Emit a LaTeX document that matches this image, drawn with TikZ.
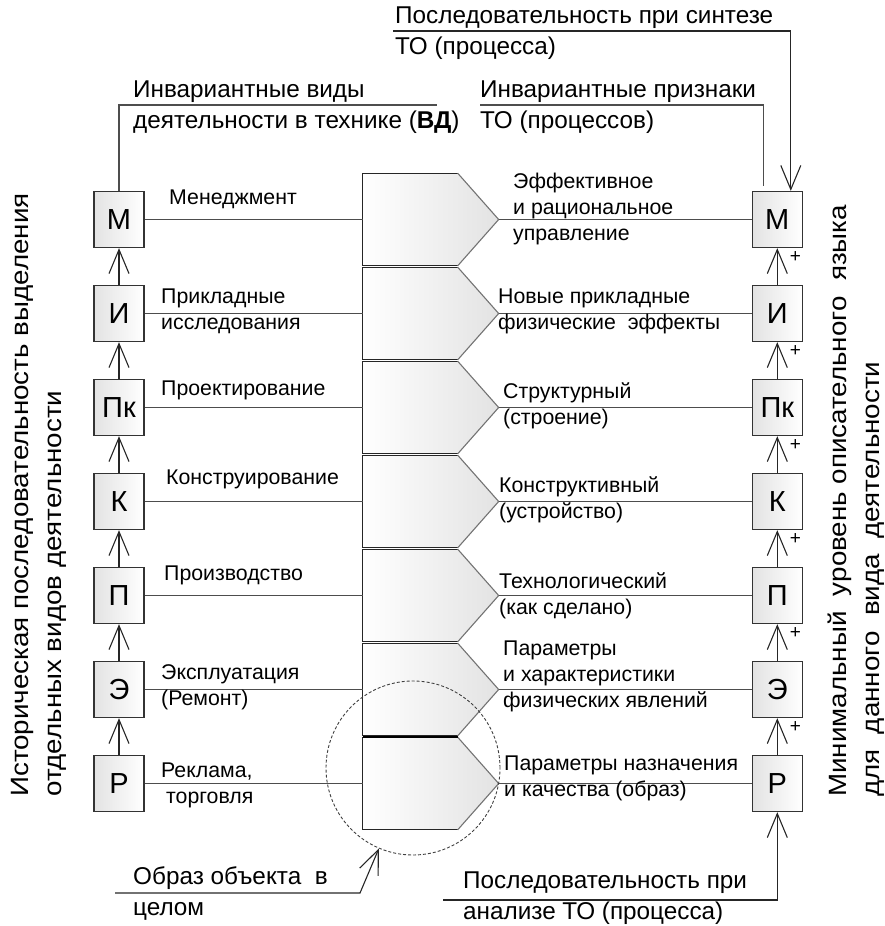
\documentclass[tikz,border=0pt]{standalone}
\usepackage{fontspec}
\setmainfont{Liberation Sans}
\usetikzlibrary{arrows.meta,positioning,calc}
\definecolor{LineGray}{HTML}{4D4D4D}
\definecolor{BoxEdge}{HTML}{333333}

\begin{document}
\begin{tikzpicture}[
    x=1pt, y=-1pt,
    node distance=36.7pt and 607pt,
    box/.style={draw=BoxEdge, line width=1.3pt, left color=black!11, right color=white,
      minimum width=50pt, minimum height=56pt, inner sep=0pt,
      font=\fontsize{29}{32}\selectfont},
    sigblk/.pic={
      \shade[left color=white, right color=black!11]
        (0,-46.35) -- (95,-46.35) -- (136,0) -- (95,46.35) -- (0,46.35) -- cycle;
      \draw[black!85, line width=1.1pt] (95,-46.35) -- (0,-46.35) -- (0,46.35) -- (95,46.35);
      \draw[black!55, line width=1.1pt] (95,-46.35) -- (136,0) -- (95,46.35);
      \coordinate (-in) at (0,0);
      \coordinate (-out) at (136,0);
    },
    conn/.style={line width=1.1pt, color=LineGray},
    arr/.style={-{Straight Barb[length=24pt, width=20pt, line width=1.1pt]},
      line width=1.1pt, color=black!85},
    lbl/.style={inner sep=0pt, align=left, text=black, font=\fontsize{21.3}{26}\selectfont},
    big/.style={inner sep=0pt, align=left, font=\fontsize{24.3}{31}\selectfont},
    vtxt/.style={inner sep=0pt, align=left, rotate=90, anchor=north west,
      font=\fontsize{25}{33}\selectfont\addfontfeature{FakeStretch=1.11}},
    plus/.style={inner sep=0pt, text=black, font=\fontsize{19}{19}\selectfont, right=12pt, pos=0.75}
  ]
  \useasboundingbox (0,0) rectangle (884,926);

  % left column: kinds of activity
  \node[box] (lM) at (119,219.5) {М};
  \node[box, below=of lM] (lI) {И};
  \node[box, below=of lI] (lPk) {Пк};
  \node[box, below=of lPk] (lK) {К};
  \node[box, below=of lK] (lP) {П};
  \node[box, below=of lP] (lE) {Э};
  \node[box, below=of lE] (lR) {Р};

  % right column: description levels
  \node[box, right=of lM] (rM) {М};
  \node[box, below=of rM] (rI) {И};
  \node[box, below=of rI] (rPk) {Пк};
  \node[box, below=of rPk] (rK) {К};
  \node[box, below=of rK] (rP) {П};
  \node[box, below=of rP] (rE) {Э};
  \node[box, below=of rE] (rR) {Р};

  % stacked blocks in the middle
  \pic (s1) at ([xshift=218pt]lM.east) {sigblk};
  \pic (s2) at ([xshift=218pt]lI.east) {sigblk};
  \pic (s3) at ([xshift=218pt]lPk.east) {sigblk};
  \pic (s4) at ([xshift=218pt]lK.east) {sigblk};
  \pic (s5) at ([xshift=218pt]lP.east) {sigblk};
  \pic (s6) at ([xshift=218pt]lE.east) {sigblk};
  \pic (s7) at ([xshift=218pt]lR.east) {sigblk};
  \draw[line width=2.2pt] ([yshift=46.35pt]s7-in) -- ++(95,0);

  \draw[conn] (lM) -- node[lbl, at start, anchor=base west, xshift=24pt, yshift=15pt] {Менеджмент} (s1-in);
  \draw[conn] (lI) -- node[lbl, at start, anchor=west, xshift=16pt, yshift=2pt] {Прикладные\\исследования} (s2-in);
  \draw[conn] (lPk) -- node[lbl, at start, anchor=base west, xshift=16pt, yshift=12pt] {Проектирование} (s3-in);
  \draw[conn] (lK) -- node[lbl, at start, anchor=base west, xshift=21pt, yshift=17pt] {Конструирование} (s4-in);
  \draw[conn] (lP) -- node[lbl, at start, anchor=base west, xshift=19pt, yshift=15pt] {Производство} (s5-in);
  \draw[conn] (lE) -- node[lbl, at start, anchor=west, xshift=16pt, yshift=2pt] {Эксплуатация\\(Ремонт)} (s6-in);
  \draw[conn] (lR) -- node[lbl, at start, anchor=west, xshift=16pt, yshift=-1.5pt] {Реклама,\\\hspace{5pt}торговля} (s7-in);

  \draw[conn] (s1-out) -- node[lbl, at start, anchor=west, xshift=14pt, yshift=10.5pt] {Эффективное\\и рациональное\\управление} (rM);
  \draw[conn] (s2-out) -- node[lbl, at start, anchor=west, xshift=-1pt, yshift=2.5pt] {Новые прикладные\\физические~ эффекты} (rI);
  \draw[conn] (s3-out) -- node[lbl, at start, anchor=west, xshift=4pt, yshift=2pt] {Структурный\\(строение)} (rPk);
  \draw[conn] (s4-out) -- node[lbl, at start, anchor=west, xshift=0pt, yshift=2pt] {Конструктивный\\(устройство)} (rK);
  \draw[conn] (s5-out) -- node[lbl, at start, anchor=west, xshift=0pt] {Технологический\\(как сделано)} (rP);
  \draw[conn] (s6-out) -- node[lbl, at start, anchor=west, xshift=4pt, yshift=13pt] {Параметры\\и характеристики\\физических явлений} (rE);
  \draw[conn] (s7-out) -- node[lbl, at start, anchor=west, xshift=5pt, yshift=5pt] {Параметры назначения\\и качества (образ)} (rR);

  \draw[arr] (lI) -- (lM);
  \draw[arr] (lPk) -- (lI);
  \draw[arr] (lK) -- (lPk);
  \draw[arr] (lP) -- (lK);
  \draw[arr] (lE) -- (lP);
  \draw[arr] (lR) -- (lE);

  \draw[arr] (rI) -- node[plus] {+} (rM);
  \draw[arr] (rPk) -- node[plus] {+} (rI);
  \draw[arr] (rK) -- node[plus] {+} (rPk);
  \draw[arr] (rP) -- node[plus] {+} (rK);
  \draw[arr] (rE) -- node[plus] {+} (rP);
  \draw[arr] (rR) -- node[plus] {+} (rE);

  % captions on top
  \coordinate (vdEnd) at (437,105);
  \draw[conn] (lM) |- (vdEnd);
  \node[big, anchor=west] (vdText) at (133,107) {Инвариантные виды\\деятельности в технике (\textbf{ВД})};

  \coordinate (prStart) at (480,105);
  \coordinate (prEnd) at ([xshift=-13.5pt, yshift=5pt]rM.north);
  \draw[conn] (prStart) -| (prEnd);
  \node[big, anchor=west] (prText) at (480,107) {Инвариантные признаки\\ТО (процессов)};

  \coordinate (snStart) at (393,31);
  \coordinate (snEnd) at ([xshift=13.5pt]rM.north);
  \draw[arr] (snStart) -| (snEnd);
  \node[big, anchor=west] (snText) at (395,33) {Последовательность при синтезе\\ТО (процесса)};

  % bottom
  \coordinate (anStart) at (443,900);
  \draw[arr] (anStart) -| (rR);
  \node[big, anchor=west] (anText) at (463,898) {Последовательность при\\анализе ТО (процесса)};

  \node[circle, draw=black!75, dash pattern=on 3pt off 2pt, line width=0.9pt,
    minimum size=174pt, inner sep=0pt] (whole) at (413,768) {};
  \coordinate (obStart) at (115,893);
  \coordinate (obBend) at (360,893);
  \draw[arr] (obStart) -- (obBend) -- (whole);
  \node[big, anchor=west] (obText) at (133,893) {Образ объекта~ в\\целом};

  % side captions
  \node[vtxt] (hist) at (11,797) {Историческая последовательность выделения\\отдельных видов деятельности};
  \node[vtxt] (minLvl) at (828,797) {Минимальный~ уровень описательного~ языка\\для~ данного~ вида~ деятельности};
\end{tikzpicture}
\end{document}
